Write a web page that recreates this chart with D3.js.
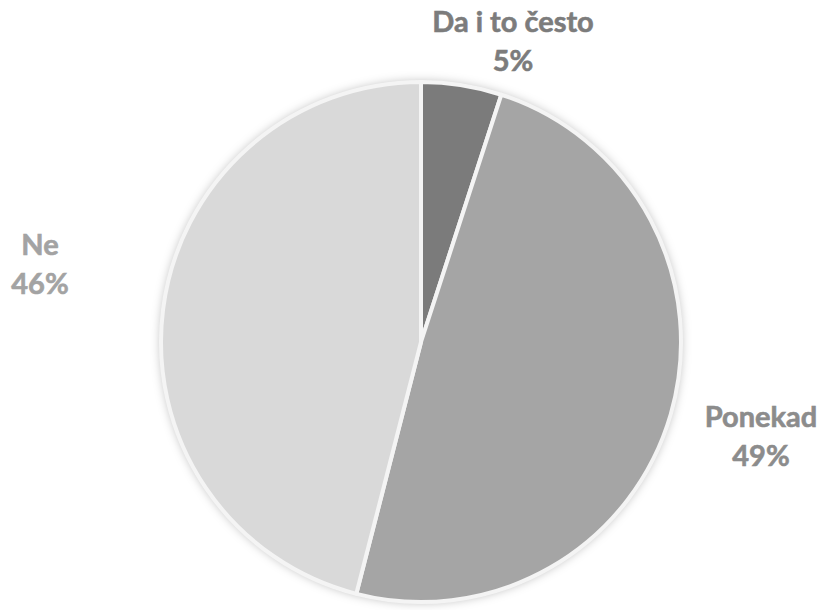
<!DOCTYPE html>
<html><head><meta charset="utf-8">
<script src="https://cdn.jsdelivr.net/npm/d3@7"></script>
<style>body{margin:0;background:#fff;}svg{display:block;}</style>
</head><body>
<svg id="c" width="821" height="610"></svg>
<script>
const categories = ["Da i to često", "Ponekad", "Ne"];
const values = [5, 49, 46];
const sliceColors = ["#7b7b7b", "#a5a5a5", "#d9d9d9"];
const labelColors = ["#7c7c7c", "#8c8c8c", "#a3a3a3"];

const svg = d3.select("#c");
const cx = 421, cy = 342, r = 260;
const defs = svg.append("defs");
const f = defs.append("filter").attr("id","sh").attr("x","-20%").attr("y","-20%").attr("width","140%").attr("height","140%");
f.append("feDropShadow").attr("dx",0).attr("dy",0).attr("stdDeviation",5).attr("flood-color","#000").attr("flood-opacity",0.25);

const data = categories.map((c,i)=>({cat:c, value:values[i], i}));
const pie = d3.pie().value(d=>d.value).sort(null);
const arc = d3.arc().innerRadius(0).outerRadius(r);
const g = svg.append("g").attr("transform",`translate(${cx},${cy})`);
g.append("circle").attr("r", r+1).attr("fill","#f2f2f2").attr("filter","url(#sh)");
g.selectAll("path").data(pie(data)).join("path")
  .attr("d", arc)
  .attr("fill", d=>sliceColors[d.data.i])
  .attr("stroke","#f4f4f4").attr("stroke-width",4).attr("stroke-linejoin","round");

const labelPos = [[513, 32], [761, 427], [40, 255]];
const lbl = svg.append("g").attr("font-family","Lato, 'Open Sans', sans-serif").attr("font-weight","bold").attr("font-size",29).attr("text-anchor","middle");
data.forEach((d,i)=>{
  const t = lbl.append("text").attr("x",labelPos[i][0]).attr("y",labelPos[i][1]).attr("fill",labelColors[i])
    .attr("stroke",labelColors[i]).attr("stroke-width",0.6);
  t.append("tspan").attr("x",labelPos[i][0]).text(d.cat);
  t.append("tspan").attr("x",labelPos[i][0]).attr("dy",39).text(d.value+"%");
});
</script>
</body></html>
